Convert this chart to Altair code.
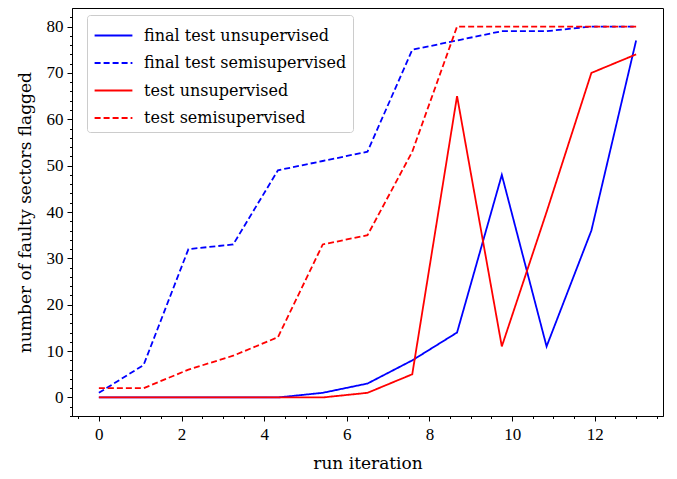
import altair as alt
import pandas as pd

iteration = [0, 1.083, 2.167, 3.25, 4.333, 5.417, 6.5, 7.583, 8.667, 9.75, 10.833, 11.917, 13]
final_unsup = [0, 0, 0, 0, 0, 1, 3, 8, 14, 48, 11, 36, 77]
final_semi = [1, 7, 32, 33, 49, 51, 53, 75, 77, 79, 79, 80, 80]
test_unsup = [0, 0, 0, 0, 0, 0, 1, 5, 65, 11, 40, 70, 74]
test_semi = [2, 2, 6, 9, 13, 33, 35, 53, 80, 80, 80, 80, 80]

series_names = ["final test unsupervised", "final test semisupervised",
                "test unsupervised", "test semisupervised"]
series_colors = ["#0000ff", "#0000ff", "#ff0000", "#ff0000"]
series_dash = [[1, 0], [6, 3], [1, 0], [6, 3]]
x_major = [0, 2, 4, 6, 8, 10, 12]
x_minor = [v / 2 for v in range(-1, 28)]
y_major = list(range(0, 81, 10))
y_minor = list(range(-4, 84, 2))

rows = []
for name, vals in zip(series_names, [final_unsup, final_semi, test_unsup, test_semi]):
    for i, (x, y) in enumerate(zip(iteration, vals)):
        rows.append({"series": name, "iteration": x, "flagged": y, "idx": i})
df = pd.DataFrame(rows)

TEXT_FONT = "DejaVu Serif"
NUM_FONT = "Liberation Serif"
xscale = alt.Scale(domain=[-0.65, 13.65], nice=False, zero=False)
yscale = alt.Scale(domain=[-4, 84], nice=False, zero=False)

legend = alt.Legend(
    title=None, orient="none", legendX=15, legendY=7,
    symbolType="M-1.4,0L1.4,0", symbolSize=729, symbolStrokeWidth=2,
    labelFont=TEXT_FONT, labelFontSize=16, labelColor="black", labelLimit=400,
    rowPadding=4.5, labelOffset=16, symbolOffset=6,
    strokeColor="#cccccc", fillColor="white", cornerRadius=3, padding=6,
)

lines = alt.Chart(df).mark_line(strokeWidth=1.8).encode(
    x=alt.X("iteration:Q", scale=xscale,
            axis=alt.Axis(values=x_major, title="run iteration", orient="bottom",
                          tickSize=5, labelPadding=5, titlePadding=13,
                          titleFontSize=17)),
    y=alt.Y("flagged:Q", scale=yscale,
            axis=alt.Axis(values=y_major, title="number of faulty sectors flagged",
                          orient="left", tickSize=5, labelPadding=4, titlePadding=12,
                          titleFontSize=17)),
    color=alt.Color("series:N", scale=alt.Scale(domain=series_names, range=series_colors),
                    legend=legend),
    strokeDash=alt.StrokeDash("series:N", scale=alt.Scale(domain=series_names, range=series_dash),
                              legend=legend),
    order="idx:Q",
)

minor = alt.Chart(pd.DataFrame({"a": [x_minor[0], x_minor[-1]], "b": [y_minor[0], y_minor[-1]]})).mark_point(opacity=0).encode(
    x=alt.X("a:Q", scale=xscale,
            axis=alt.Axis(values=x_minor, labels=False, title=None, orient="bottom",
                          tickSize=2.5, domain=False)),
    y=alt.Y("b:Q", scale=yscale,
            axis=alt.Axis(values=y_minor, labels=False, title=None, orient="left",
                          tickSize=2.5, domain=False)),
)

chart = alt.layer(lines, minor).resolve_axis(x="independent", y="independent").properties(
    width=591, height=408,
    autosize=alt.AutoSizeParams(type="none"),
    padding={"left": 64, "top": 0, "right": 6, "bottom": 62},
).configure_view(
    stroke="black", strokeWidth=1
).configure_axis(
    labelFont=NUM_FONT, labelFontSize=17, labelColor="black",
    titleFont=TEXT_FONT, titleFontWeight="normal", titleColor="black",
    tickColor="black", domainColor="black", grid=False,
)

chart.save("out.html", embed_options={"renderer": "svg", "actions": False})
